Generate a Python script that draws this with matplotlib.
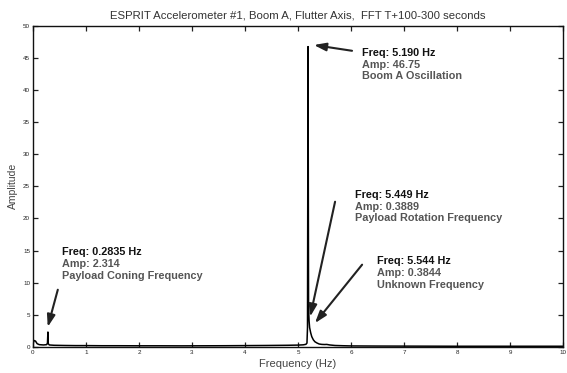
import matplotlib
matplotlib.use("Agg")
import matplotlib.pyplot as plt

# Spectrum (Hz, amplitude)
freq = [0.0, 0.02, 0.05, 0.08, 0.12, 0.2, 0.26, 0.275, 0.2835, 0.29, 0.31, 0.4, 0.6, 0.8,
        1.0, 1.3, 1.6, 2.0, 2.4, 2.8, 3.2, 3.6, 4.0, 4.4, 4.8, 5.0, 5.1, 5.15, 5.17,
        5.18, 5.19, 5.20, 5.21, 5.22, 5.24, 5.26, 5.29, 5.32, 5.36, 5.40, 5.449,
        5.50, 5.544, 5.60, 5.70, 5.85, 6.0, 6.5, 7.0, 7.5, 8.0, 8.5, 9.0, 9.5, 10.0]
amp = [0.3, 1.0, 0.9, 0.5, 0.35, 0.3, 0.35, 0.6, 2.314, 0.5, 0.3, 0.25, 0.22, 0.2,
       0.2, 0.18, 0.18, 0.17, 0.17, 0.16, 0.17, 0.18, 0.2, 0.22, 0.25, 0.28, 0.32, 0.4, 0.6,
       3.0, 46.75, 6.0, 4.0, 3.0, 2.2, 1.6, 1.1, 0.8, 0.6, 0.45, 0.3889,
       0.37, 0.3844, 0.3, 0.22, 0.18, 0.15, 0.13, 0.12, 0.11, 0.1, 0.1, 0.1, 0.1, 0.1]

title = "ESPRIT Accelerometer #1, Boom A, Flutter Axis,  FFT T+100-300 seconds"
xticks = [0, 1, 2, 3, 4, 5, 6, 7, 8, 9, 10]
yticks = [0, 5, 10, 15, 20, 25, 30, 35, 40, 45, 50]

# annotations: (text lines, first-line position, arrow tail, arrow head)
notes = [
    (["Freq: 5.190 Hz", "Amp: 46.75", "Boom A Oscillation"], (6.21, 45.8), (6.02, 46.1), (5.30, 47.0)),
    (["Freq: 5.449 Hz", "Amp: 0.3889", "Payload Rotation Frequency"], (6.08, 23.7), (5.70, 22.6), (5.23, 4.7)),
    (["Freq: 5.544 Hz", "Amp: 0.3844", "Unknown Frequency"], (6.49, 13.4), (6.21, 12.8), (5.32, 3.7)),
    (["Freq: 0.2835 Hz", "Amp: 2.314", "Payload Coning Frequency"], (0.55, 14.8), (0.47, 8.9), (0.28, 3.1)),
]

plt.rcParams['font.family'] = ['Liberation Sans', 'DejaVu Sans']
fig = plt.figure(figsize=(5.67, 3.73), dpi=100)
ax = fig.add_axes([0.058, 0.070, 0.935, 0.861])

ax.plot(freq, amp, color='black', lw=1.1)
ax.set_xlim(0, 10)
ax.set_ylim(0, 50)
ax.set_xticks(xticks)
ax.set_yticks(yticks)
ax.tick_params(direction='in', top=True, right=True, length=3.5, width=0.9,
               labelsize=4.5, pad=2, colors='#222222')
for s in ax.spines.values():
    s.set_linewidth(1.0)
    s.set_color('#111111')

ax.set_title(title, fontsize=8.2, color='#333333', pad=5)
ax.set_xlabel("Frequency (Hz)", fontsize=8, color='#444444', labelpad=3)
ax.set_ylabel("Amplitude", fontsize=7.5, color='#444444', labelpad=4)

step = 1.85
for lines, tpos, tail, head in notes:
    ax.annotate('', xy=head, xytext=tail,
                arrowprops=dict(arrowstyle='-|>,head_length=0.9,head_width=0.3',
                                color='#222222', lw=1.5,
                                mutation_scale=8, shrinkA=0, shrinkB=0))
    for i, ln in enumerate(lines):
        ax.text(tpos[0], tpos[1] - i * step, ln, fontsize=7.8,
                color='#111111' if i == 0 else '#555555',
                fontweight='bold', va='center', ha='left')

fig.savefig("out.png", dpi=100)
